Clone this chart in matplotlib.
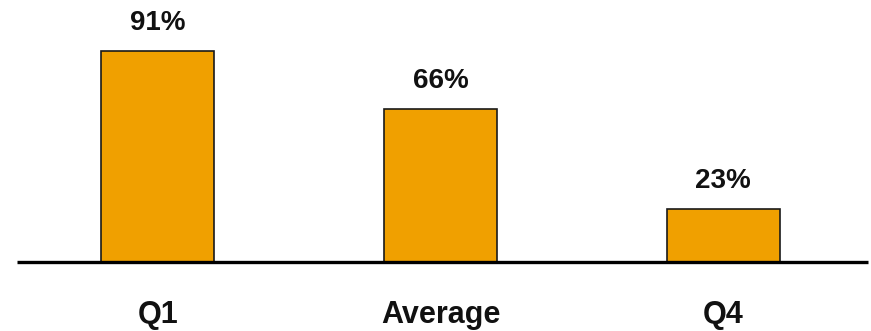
import matplotlib
matplotlib.use("Agg")
import matplotlib.pyplot as plt
import matplotlib.transforms as mtransforms

categories = ["Q1", "Average", "Q4"]
values = [91, 66, 23]
value_labels = ["91%", "66%", "23%"]

plt.rcParams["font.family"] = ["Liberation Sans", "DejaVu Sans"]

fig = plt.figure(figsize=(8.71, 3.31), dpi=100)
ax = fig.add_axes([17 / 871, (331 - 262) / 331, (868 - 17) / 871, 232 / 331])

x = list(range(len(categories)))
ax.bar(x, values, width=0.40, color="#F0A000", edgecolor="#1a1a1a", linewidth=1.2, zorder=2)
ax.axhline(0, color="black", linewidth=2.4, zorder=3, solid_capstyle="butt", clip_on=False)

ax.set_xlim(-0.499, 2.513)
ax.set_ylim(0, 100)
ax.axis("off")

for xi, v, lab in zip(x, values, value_labels):
    ax.annotate(lab, (xi, v), xytext=(0, 15), textcoords="offset points",
                ha="center", va="baseline", fontsize=20, fontweight="bold", color="#111111")

trans = mtransforms.blended_transform_factory(ax.transData, fig.transFigure)
for xi, cat in zip(x, categories):
    ax.text(xi, (331 - 323) / 331, cat, transform=trans, ha="center", va="baseline",
            fontsize=22, fontweight="bold", color="#111111")

fig.savefig("out.png", dpi=100)
